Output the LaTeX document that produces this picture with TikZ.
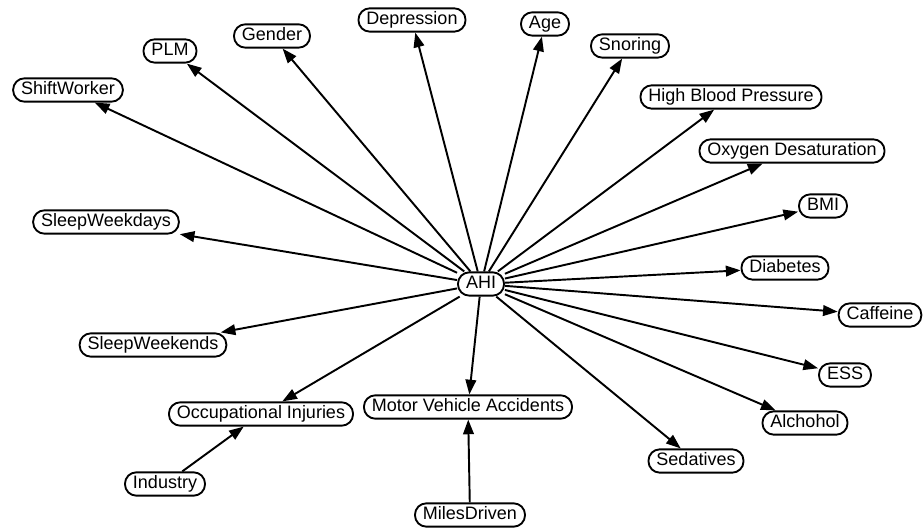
\documentclass[tikz,border=0pt]{standalone}
\usepackage{fontspec}
\setmainfont{Liberation Sans}
\usetikzlibrary{arrows.meta}
\begin{document}
\begin{tikzpicture}[x=0.75pt,y=-0.75pt,
  var/.style={draw, line width=1.4pt, rounded corners=8.5pt, fill=white,
    inner xsep=6pt, inner ysep=0pt, minimum height=17.5pt,
    font=\fontsize{13.5}{15}\selectfont, text height=9.8pt, text depth=2.6pt},
  link/.style={line width=1.45pt, -{Triangle[length=11pt,width=8pt]}}]
\useasboundingbox (0,0) rectangle (924,530);

% hub
\node[var] (ahi) at (481,284) {AHI};

% variables around the hub
\node[var] (shift)  at (68,90)   {ShiftWorker};
\node[var] (plm)    at (170,51)  {PLM};
\node[var] (gender) at (272,36)  {Gender};
\node[var] (depr)   at (412,20)  {Depression};
\node[var] (age)    at (545,24)  {Age};
\node[var] (snore)  at (630,46)  {Snoring};
\node[var] (hbp)    at (731,97)  {High Blood Pressure};
\node[var] (oxy)    at (792,151) {Oxygen Desaturation};
\node[var] (bmi)    at (823,206) {BMI};
\node[var] (diab)   at (785,268) {Diabetes};
\node[var] (caff)   at (880,315) {Caffeine};
\node[var] (ess)    at (845,375) {ESS};
\node[var] (alc)    at (805,423) {Alchohol};
\node[var] (sed)    at (696,461) {Sedatives};
\node[var] (mva)    at (468,407) {Motor Vehicle Accidents};
\node[var] (occ)    at (261,414) {Occupational Injuries};
\node[var] (swe)    at (153,345) {SleepWeekends};
\node[var] (swd)    at (106,222) {SleepWeekdays};
\node[var] (ind)    at (165,484) {Industry};
\node[var] (miles)  at (470,515) {MilesDriven};

% edges
\foreach \t in {shift,plm,gender,depr,age,snore,hbp,oxy,bmi,diab,caff,ess,alc,sed,mva,occ,swe,swd}
  \draw[link] (ahi) -- (\t);
\draw[link] (ind) -- (occ);
\draw[link] (miles) -- (mva);
\end{tikzpicture}
\end{document}
